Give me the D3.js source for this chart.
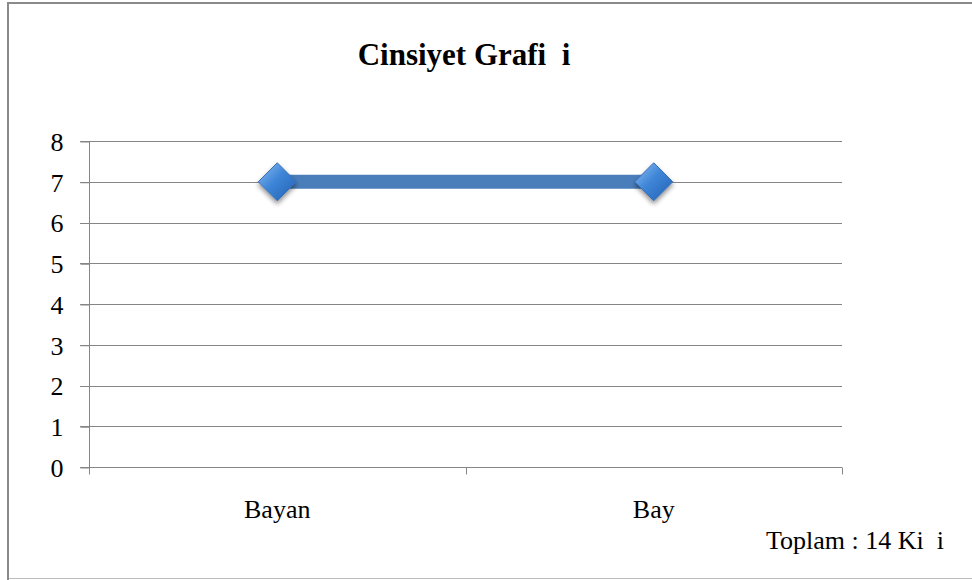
<!DOCTYPE html>
<html>
<head>
<meta charset="utf-8">
<script src="https://cdn.jsdelivr.net/npm/d3@7"></script>
<style>
html,body{margin:0;padding:0;background:#fff;}
svg{display:block;}
text{font-family:"Liberation Serif","Times New Roman",serif;fill:#000;}
</style>
</head>
<body>
<svg id="chart" width="972" height="580"></svg>
<script>
const title = "Cinsiyet Grafi  i";
const categories = ["Bayan", "Bay"];
const values = [7, 7];
const yTicks = [0, 1, 2, 3, 4, 5, 6, 7, 8];
const footnote = "Toplam : 14 Ki  i";

const svg = d3.select("#chart");

// outer frame
svg.append("line").attr("x1", 8).attr("x2", 8).attr("y1", 3).attr("y2", 580)
  .attr("stroke", "#8a8a8a").attr("stroke-width", 2);
svg.append("line").attr("x1", 7).attr("x2", 972).attr("y1", 3).attr("y2", 3)
  .attr("stroke", "#8a8a8a").attr("stroke-width", 2);
svg.append("line").attr("x1", 9).attr("x2", 972).attr("y1", 578.5).attr("y2", 578.5)
  .attr("stroke", "#bdbdbd").attr("stroke-width", 1);

const x = d3.scaleBand().domain(categories).range([89, 842]).padding(0);
const y = d3.scaleLinear().domain([0, 8]).range([467, 141]);

// grid lines
svg.append("g").selectAll("line").data(yTicks.filter(d => d > 0)).join("line")
  .attr("x1", 80).attr("x2", 842)
  .attr("y1", d => Math.round(y(d)) + 0.5).attr("y2", d => Math.round(y(d)) + 0.5)
  .attr("stroke", "#868686").attr("stroke-width", 1);

// y axis
const yAxis = d3.axisLeft(y).tickValues(yTicks).tickSize(9).tickPadding(17).tickFormat(d3.format("d"));
const gy = svg.append("g").attr("transform", "translate(89.5,0.5)").call(yAxis);
gy.attr("font-size", null).attr("font-family", null);
gy.select(".domain").attr("stroke", "#868686").attr("d", `M0,${y(8)}V${y(0)}`);
gy.selectAll(".tick line").attr("stroke", "#868686");
gy.selectAll(".tick text").attr("font-size", 26).attr("fill", "#000").attr("dy", "0.34em");

// x axis
const gx = svg.append("g").attr("transform", `translate(0,${Math.round(y(0)) + 0.5})`);
gx.append("line").attr("x1", 80).attr("x2", 842).attr("stroke", "#868686");
const boundaries = [x.range()[0]].concat(categories.map(c => x(c) + x.bandwidth()));
gx.selectAll(".xt").data(boundaries).join("line")
  .attr("x1", d => Math.round(d) + 0.5).attr("x2", d => Math.round(d) + 0.5)
  .attr("y1", 0).attr("y2", 7).attr("stroke", "#868686");
gx.selectAll(".xl").data(categories).join("text")
  .attr("x", d => x(d) + x.bandwidth() / 2).attr("y", 50)
  .attr("text-anchor", "middle").attr("font-size", 26).text(d => d);

// defs
const defs = svg.append("defs");
const grad = defs.append("linearGradient").attr("id", "dg")
  .attr("x1", "0").attr("y1", "0").attr("x2", "1").attr("y2", "1");
grad.append("stop").attr("offset", "0%").attr("stop-color", "#8fc0f2");
grad.append("stop").attr("offset", "45%").attr("stop-color", "#3f86d8");
grad.append("stop").attr("offset", "100%").attr("stop-color", "#1f5fb0");
const filt = defs.append("filter").attr("id", "sh").attr("x", "-50%").attr("y", "-50%").attr("width", "200%").attr("height", "200%");
filt.append("feGaussianBlur").attr("in", "SourceAlpha").attr("stdDeviation", 2.5);
filt.append("feOffset").attr("dx", 0).attr("dy", 3).attr("result", "ob");
filt.append("feComponentTransfer").append("feFuncA").attr("type", "linear").attr("slope", 0.45);
const fm = filt.append("feMerge");
fm.append("feMergeNode");
fm.append("feMergeNode").attr("in", "SourceGraphic");

// series line
const pts = categories.map((c, i) => [x(c) + x.bandwidth() / 2, y(values[i])]);
svg.append("path").attr("d", d3.line()(pts))
  .attr("fill", "none").attr("stroke", "#4a7ebb").attr("stroke-width", 14);

// markers
const r = 19;
svg.append("g").selectAll("path").data(pts).join("path")
  .attr("d", d => `M${d[0]},${d[1] - r}L${d[0] + r},${d[1]}L${d[0]},${d[1] + r}L${d[0] - r},${d[1]}Z`)
  .attr("fill", "url(#dg)").attr("stroke", "#3a70b8").attr("stroke-width", 1)
  .attr("filter", "url(#sh)");

// title
svg.append("text").attr("x", 464).attr("y", 65).attr("text-anchor", "middle")
  .attr("font-size", 31).attr("font-weight", "bold").style("white-space", "pre").text(title);

// footnote
svg.append("text").attr("x", 944).attr("y", 549).attr("text-anchor", "end")
  .attr("font-size", 26).style("white-space", "pre").text(footnote);
</script>
</body>
</html>
